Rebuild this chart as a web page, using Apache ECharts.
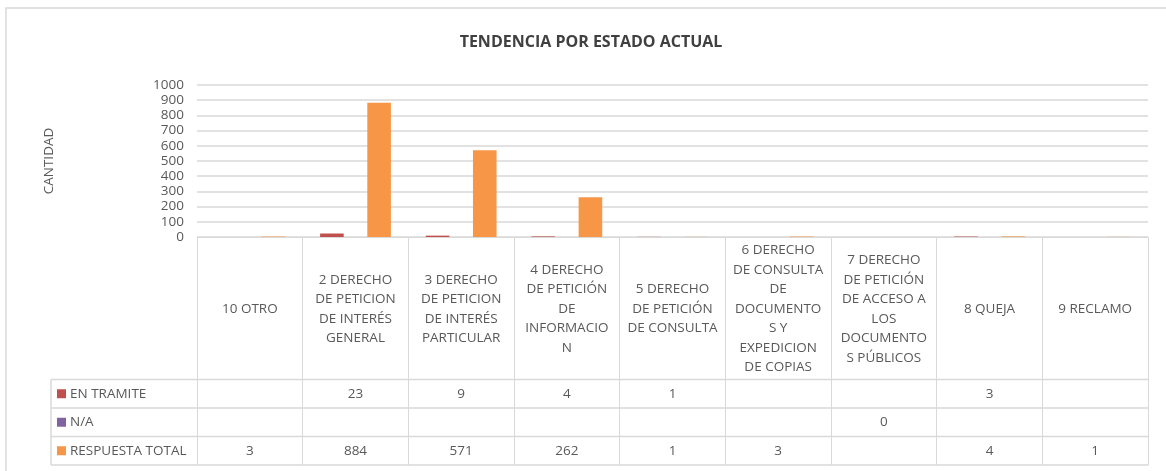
<!DOCTYPE html>
<html>
<head>
<meta charset="utf-8">
<style>
    html, body { margin: 0; padding: 0; background: #fff; }
    #estado { width: 1166px; height: 471px; }
</style>
<script src="https://cdn.jsdelivr.net/npm/echarts@6/dist/echarts.min.js"></script>
</head>
<body>
<div id="estado"></div>
<script>
// categorias tal como aparecen (con los saltos de linea de la tabla)
const categories = [
    '10 OTRO',
    '2 DERECHO\nDE PETICION\nDE INTERÉS\nGENERAL',
    '3 DERECHO\nDE PETICION\nDE INTERÉS\nPARTICULAR',
    '4 DERECHO\nDE PETICIÓN\nDE\nINFORMACIO\nN',
    '5 DERECHO\nDE PETICIÓN\nDE CONSULTA',
    '6 DERECHO\nDE CONSULTA\nDE\nDOCUMENTO\nS Y\nEXPEDICION\nDE COPIAS',
    '7 DERECHO\nDE PETICIÓN\nDE ACCESO A\nLOS\nDOCUMENTO\nS PÚBLICOS',
    '8 QUEJA',
    '9 RECLAMO',
];
const seriesNames = ['EN TRAMITE', 'N/A', 'RESPUESTA TOTAL'];
const enTramite = [null, 23, 9, 4, 1, null, null, 3, null];
const noAplica = [null, null, null, null, null, null, 0, null, null];
const respuestaTotal = [3, 884, 571, 262, 1, 3, null, 4, 1];
const yTicks = [0, 100, 200, 300, 400, 500, 600, 700, 800, 900, 1000];

!(function (window) {
    const { echarts } = window;
    const container = document.getElementById('estado');
    const chart = echarts.init(container);

    const FONT = '"Open Sans", sans-serif';
    const SIZE = 13.5;
    const TEXT = '#595959';
    const LINE = '#D9D9D9';
    const colors = ['#C0504D', '#8064A2', '#F79646'];
    const values = [enTramite, noAplica, respuestaTotal];

    const option = {
        animation: false,
        textStyle: { fontFamily: FONT },
        title: {
            text: 'TENDENCIA POR ESTADO ACTUAL',
            left: 591,
            top: 34,
            padding: 0,
            textAlign: 'center',
            textStyle: {
                fontSize: 16,
                fontWeight: 'bold',
                color: '#404040',
                fontFamily: FONT,
            },
        },
        grid: {
            left: 197,
            right: 18,
            top: 85,
            bottom: 234,
            containLabel: false,
        },
        xAxis: {
            type: 'category',
            data: categories,
            axisLine: { lineStyle: { color: LINE, width: 1 } },
            axisTick: {
                show: true,
                length: 228,
                lineStyle: { color: LINE, width: 1 },
            },
            axisLabel: {
                interval: 0,
                margin: 72,
                verticalAlign: 'middle',
                align: 'center',
                color: TEXT,
                fontSize: SIZE,
                lineHeight: 19.5,
                fontFamily: FONT,
            },
        },
        yAxis: {
            type: 'value',
            min: yTicks[0],
            max: yTicks[yTicks.length - 1],
            interval: 100,
            name: 'CANTIDAD',
            nameLocation: 'middle',
            nameRotate: 90,
            nameGap: 141,
            nameTextStyle: { color: TEXT, fontSize: SIZE, fontFamily: FONT },
            axisLine: { show: false },
            axisTick: { show: false },
            axisLabel: {
                color: TEXT,
                fontSize: SIZE,
                margin: 13,
                fontFamily: FONT,
                formatter: v => String(v),
            },
            splitLine: { lineStyle: { color: LINE, width: 1.5 } },
        },
        series: seriesNames.map((name, i) => ({
            name,
            type: 'bar',
            data: values[i],
            barGap: '0%',
            barCategoryGap: '33%',
            itemStyle: { color: colors[i] },
        })),
    };

    chart.setOption(option);

    // tabla de datos debajo del eje
    const c0 = chart.convertToPixel({ xAxisIndex: 0 }, 0);
    const c1 = chart.convertToPixel({ xAxisIndex: 0 }, 1);
    const colW = c1 - c0;
    const plotLeft = c0 - colW / 2;
    const plotRight = plotLeft + colW * categories.length;
    const tableLeft = 51;
    const rowTops = [379.5, 408, 436.5, 465];

    const elements = [];
    rowTops.forEach(y => {
        elements.push({
            type: 'line',
            shape: { x1: tableLeft, y1: y, x2: plotRight, y2: y },
            style: { stroke: LINE, lineWidth: 1.5 },
        });
    });
    elements.push({
        type: 'line',
        shape: { x1: tableLeft, y1: rowTops[0], x2: tableLeft, y2: rowTops[3] },
        style: { stroke: LINE, lineWidth: 1.5 },
    });

    seriesNames.forEach((name, r) => {
        const mid = (rowTops[r] + rowTops[r + 1]) / 2;
        elements.push({
            type: 'rect',
            shape: { x: 57, y: mid - 4.5, width: 9, height: 9 },
            style: { fill: colors[r] },
        });
        elements.push({
            type: 'text',
            x: 70,
            y: mid,
            style: {
                text: name,
                fill: TEXT,
                font: `${SIZE}px ${FONT}`,
                align: 'left',
                verticalAlign: 'middle',
            },
        });
        values[r].forEach((v, i) => {
            if (v === null) return;
            elements.push({
                type: 'text',
                x: chart.convertToPixel({ xAxisIndex: 0 }, i),
                y: mid,
                style: {
                    text: String(v),
                    fill: TEXT,
                    font: `${SIZE}px ${FONT}`,
                    align: 'center',
                    verticalAlign: 'middle',
                },
            });
        });
    });

    // borde del area del grafico
    elements.push({
        type: 'rect',
        shape: { x: 6, y: 8, width: 1200, height: 500 },
        style: { fill: null, stroke: LINE, lineWidth: 1.5 },
    });

    chart.setOption({ graphic: elements });
}(window));
</script>
</body>
</html>
